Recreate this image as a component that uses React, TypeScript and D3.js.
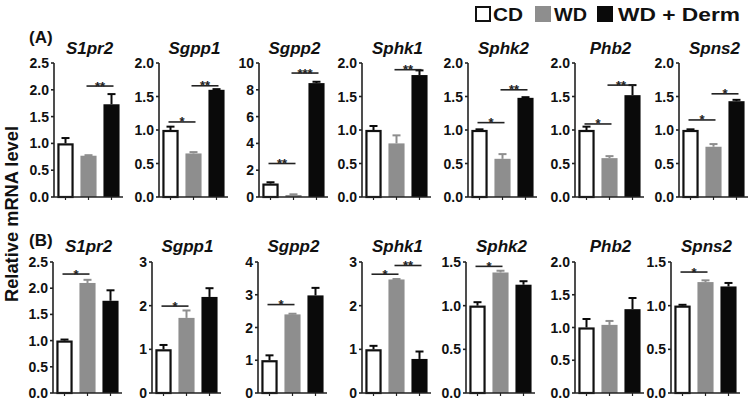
import React from "react";
import * as d3 from "d3";

const genes = ["S1pr2", "Sgpp1", "Sgpp2", "Sphk1", "Sphk2", "Phb2", "Spns2"];
const groups = ["CD", "WD", "WD + Derm"];

const rowAMax = [2.5, 2, 10, 2, 2, 2, 2];
const rowAStep = [0.5, 0.5, 2, 0.5, 0.5, 0.5, 0.5];
const rowAMeans = [
  [1.0, 0.77, 1.73],
  [1.0, 0.65, 1.6],
  [1.0, 0.15, 8.5],
  [1.0, 0.8, 1.82],
  [1.0, 0.57, 1.48],
  [1.0, 0.58, 1.52],
  [1.0, 0.75, 1.43],
];
const rowAErrors = [
  [0.1, 0.01, 0.19],
  [0.05, 0.02, 0.01],
  [0.1, 0.05, 0.1],
  [0.06, 0.12, 0.07],
  [0.01, 0.07, 0.01],
  [0.05, 0.03, 0.15],
  [0.01, 0.04, 0.02],
];
const rowASig: [number, number, string, number][][] = [
  [[1, 2, "**", 2.07]],
  [[0, 1, "*", 1.12], [1, 2, "**", 1.66]],
  [[0, 1, "**", 2.5], [1, 2, "***", 9.25]],
  [[1, 2, "**", 1.9]],
  [[0, 1, "*", 1.11], [1, 2, "**", 1.6]],
  [[0, 1, "*", 1.09], [1, 2, "**", 1.67]],
  [[0, 1, "*", 1.15], [1, 2, "*", 1.54]],
];

const rowBMax = [2.5, 3, 4, 3, 1.5, 2, 1.5];
const rowBStep = [0.5, 1, 1, 1, 0.5, 0.5, 0.5];
const rowBMeans = [
  [1.0, 2.1, 1.76],
  [1.0, 1.72, 2.2],
  [1.0, 2.4, 2.98],
  [1.0, 2.6, 0.78],
  [1.0, 1.38, 1.24],
  [1.0, 1.04, 1.28],
  [1.0, 1.27, 1.22],
];
const rowBErrors = [
  [0.02, 0.06, 0.2],
  [0.1, 0.17, 0.2],
  [0.15, 0.02, 0.23],
  [0.08, 0.01, 0.17],
  [0.04, 0.02, 0.04],
  [0.13, 0.06, 0.17],
  [0.01, 0.02, 0.04],
];
const rowBSig: [number, number, string, number][][] = [
  [[0, 1, "*", 2.27]],
  [[0, 1, "*", 1.99]],
  [[0, 1, "*", 2.7]],
  [[0, 1, "*", 2.72], [1, 2, "**", 2.92]],
  [[0, 1, "*", 1.45]],
  [],
  [[0, 1, "*", 1.385]],
];

// layout
const rowALayout = { top: 63, bottom: 197, titleY: 54, axisX: [54, 159, 259, 362, 468, 575, 679] };
const rowBLayout = { top: 262, bottom: 393, titleY: 252, axisX: [53, 152, 258, 362, 466, 575, 671] };
const plotW = 69;
const fills = ["#ffffff", "#8e8e8e", "#0a0a0a"];
const FONT = "'Liberation Sans', Arial, Helvetica, sans-serif";
const AX = "#222";

function Panel({ gene, x0, layout, max, step, means, errors, sig }: any) {
  const y = d3.scaleLinear().domain([0, max]).range([layout.bottom, layout.top]);
  const x = d3.scaleBand<string>().domain(groups).range([x0, x0 + plotW]).paddingInner(0.3).paddingOuter(0.15);
  const bw = x.bandwidth();
  const ticks = d3.range(0, max + step / 2, step);
  const fmt = step < 1 ? (v: number) => v.toFixed(1) : (v: number) => String(Math.round(v));
  return (
    <g>
      <text x={x0 + plotW / 2 + 1} y={layout.titleY} textAnchor="middle" fontFamily={FONT} fontWeight="bold" fontStyle="italic" fontSize={17} fill="#111">
        {gene}
      </text>
      {groups.map((g, i) => {
        const bx = x(g)!;
        const top = y(means[i]);
        const cx = bx + bw / 2;
        const et = y(means[i] + errors[i]);
        const col = i === 1 ? "#8e8e8e" : "#0a0a0a";
        return (
          <g key={g}>
            <line x1={cx} x2={cx} y1={top} y2={et} stroke={col} strokeWidth={2} />
            <line x1={cx - 4} x2={cx + 4} y1={et} y2={et} stroke={col} strokeWidth={2} />
            {i === 0 ? (
              <rect x={bx + 1} y={top + 1} width={bw - 2} height={layout.bottom - top - 1} fill={fills[i]} stroke="#111" strokeWidth={2.2} />
            ) : (
              <rect x={bx} y={top} width={bw} height={layout.bottom - top} fill={fills[i]} />
            )}
            <line x1={cx} x2={cx} y1={layout.bottom} y2={layout.bottom + 3} stroke={AX} strokeWidth={1.2} />
          </g>
        );
      })}
      <line x1={x0} x2={x0} y1={layout.top} y2={layout.bottom} stroke={AX} strokeWidth={1.6} />
      <line x1={x0} x2={x0 + plotW} y1={layout.bottom} y2={layout.bottom} stroke={AX} strokeWidth={1.6} />
      {ticks.map((t) => (
        <g key={t}>
          <line x1={x0 - 3} x2={x0} y1={y(t)} y2={y(t)} stroke={AX} strokeWidth={1.6} />
          <text x={x0 - 5} y={y(t)} dy="0.36em" textAnchor="end" fontFamily={FONT} fontWeight="bold" fontSize={14} fill="#111">
            {fmt(t)}
          </text>
        </g>
      ))}
      {sig.map(([a, b, label, v]: any, k: number) => {
        const xa = x(groups[a])! + bw / 2 - 2;
        const xb = x(groups[b])! + bw / 2 + 2;
        const ly = y(v);
        return (
          <g key={k}>
            <line x1={xa} x2={xb} y1={ly} y2={ly} stroke="#222" strokeWidth={1.6} />
            <text x={(xa + xb) / 2} y={ly + 4.5} textAnchor="middle" fontFamily={FONT} fontWeight="bold" fontSize={13} fill="#222">
              {label}
            </text>
          </g>
        );
      })}
    </g>
  );
}

export default function App() {
  return (
    <svg width={750} height={402} style={{ position: "absolute", left: 0, top: 0, background: "#fff" }}>
      <rect width={750} height={402} fill="#fff" />
      <text transform="translate(18,214) rotate(-90)" textAnchor="middle" fontFamily={FONT} fontWeight="bold" fontSize={18} textLength={176} lengthAdjust="spacingAndGlyphs" fill="#111">
        Relative mRNA level
      </text>
      <text x={29} y={43} fontFamily={FONT} fontWeight="bold" fontSize={17} fill="#111">(A)</text>
      <text x={29} y={246} fontFamily={FONT} fontWeight="bold" fontSize={17} fill="#111">(B)</text>
      {/* legend */}
      <rect x={476} y={7} width={14} height={14} fill="#fff" stroke="#111" strokeWidth={2} />
      <text x={493} y={20.5} fontFamily={FONT} fontWeight="bold" fontSize={18} textLength={30} lengthAdjust="spacingAndGlyphs" fill="#111">{groups[0]}</text>
      <rect x={535} y={6} width={16} height={16} fill="#8e8e8e" />
      <text x={554} y={20.5} fontFamily={FONT} fontWeight="bold" fontSize={18} textLength={33} lengthAdjust="spacingAndGlyphs" fill="#111">{groups[1]}</text>
      <rect x={597} y={6} width={16} height={16} fill="#0a0a0a" />
      <text x={618} y={20.5} fontFamily={FONT} fontWeight="bold" fontSize={18} textLength={122} lengthAdjust="spacingAndGlyphs" fill="#111">{groups[2]}</text>
      {genes.map((g, i) => (
        <Panel key={"A" + g} gene={g} x0={rowALayout.axisX[i]} layout={rowALayout} max={rowAMax[i]} step={rowAStep[i]} means={rowAMeans[i]} errors={rowAErrors[i]} sig={rowASig[i]} />
      ))}
      {genes.map((g, i) => (
        <Panel key={"B" + g} gene={g} x0={rowBLayout.axisX[i]} layout={rowBLayout} max={rowBMax[i]} step={rowBStep[i]} means={rowBMeans[i]} errors={rowBErrors[i]} sig={rowBSig[i]} />
      ))}
    </svg>
  );
}
